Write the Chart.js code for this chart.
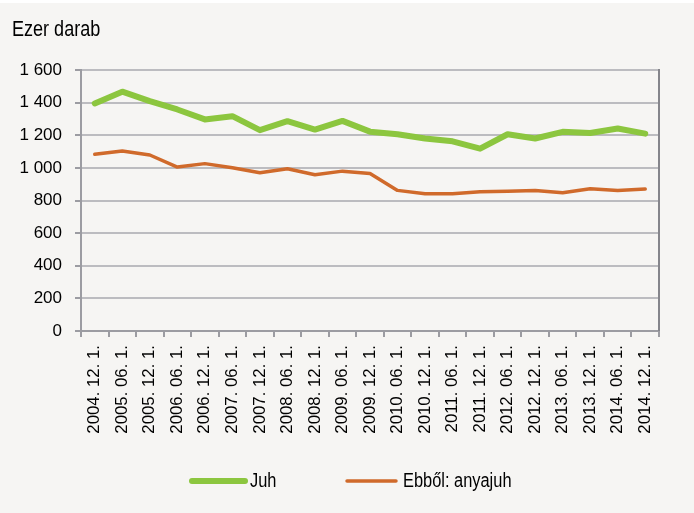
<!DOCTYPE html>
<html>
<head>
<meta charset="utf-8">
<script src="https://cdn.jsdelivr.net/npm/chart.js@4.4.1/dist/chart.umd.min.js"></script>
<style>
    html, body { margin: 0; padding: 0; background: #ffffff; }
    #wrap { width: 694px; height: 513px; position: relative; }
</style>
</head>
<body>
<div id="wrap"><canvas id="sheepChart" width="694" height="513"></canvas></div>
<script>
    const unitLabel = "Ezer darab";
    const dates = [
        "2004. 12. 1.", "2005. 06. 1.", "2005. 12. 1.", "2006. 06. 1.", "2006. 12. 1.",
        "2007. 06. 1.", "2007. 12. 1.", "2008. 06. 1.", "2008. 12. 1.", "2009. 06. 1.",
        "2009. 12. 1.", "2010. 06. 1.", "2010. 12. 1.", "2011. 06. 1.", "2011. 12. 1.",
        "2012. 06. 1.", "2012. 12. 1.", "2013. 06. 1.", "2013. 12. 1.", "2014. 06. 1.",
        "2014. 12. 1."
    ];
    const juh = [1395, 1467, 1409, 1358, 1297, 1317, 1231, 1286, 1235, 1288, 1222,
                 1206, 1180, 1163, 1118, 1206, 1180, 1221, 1214, 1241, 1210];
    const anyajuh = [1083, 1104, 1079, 1005, 1026, 1001, 970, 995, 958, 980, 965,
                     862, 841, 841, 853, 857, 862, 847, 872, 862, 870];
    const yMin = 0, yMax = 1600, yStep = 200;

    // thousands with a space, like "1 600"
    function fmt(v) {
        return String(v).replace(/\B(?=(\d{3})+(?!\d))/g, " ");
    }

    // narrow Arial look: plain Liberation Sans squeezed horizontally
    function narrowText(ctx, text, x, y, size) {
        ctx.save();
        ctx.font = size + "px 'Liberation Sans', Arial, sans-serif";
        ctx.fillStyle = "#000000";
        ctx.textBaseline = "middle";
        ctx.translate(x, y);
        ctx.scale(0.82, 1);
        ctx.fillText(text, 0, 0);
        ctx.restore();
    }

    const frame = {
        id: "frame",
        beforeDraw(chart) {
            const ctx = chart.ctx;
            ctx.save();
            ctx.fillStyle = "#f6f5f3";
            ctx.fillRect(0, 0, chart.width, chart.height);
            ctx.fillStyle = "#ffffff";
            ctx.fillRect(0, 0, chart.width, 3);
            ctx.restore();
        },
        afterDatasetsDraw(chart) {
            const ctx = chart.ctx;
            const a = chart.chartArea;
            ctx.save();
            ctx.strokeStyle = "#85858b";
            ctx.lineWidth = 2;
            ctx.beginPath();
            ctx.moveTo(a.right, a.top - 1);
            ctx.lineTo(a.right, a.bottom);
            ctx.stroke();
            ctx.restore();
        },
        afterDraw(chart) {
            const ctx = chart.ctx;
            narrowText(ctx, unitLabel, 12, 30, 22);

            // legend
            const items = [
                { x: 190, w: 57, gap: 3 },
                { x: 345, w: 53, gap: 5 }
            ];
            chart.data.datasets.forEach((ds, i) => {
                const it = items[i];
                ctx.save();
                ctx.strokeStyle = ds.borderColor;
                ctx.lineWidth = ds.borderWidth;
                ctx.lineCap = "round";
                ctx.beginPath();
                ctx.moveTo(it.x + 2, 481);
                ctx.lineTo(it.x + it.w - 2, 481);
                ctx.stroke();
                ctx.restore();
                narrowText(ctx, ds.label, it.x + it.w + it.gap, 481, 20);
            });
        }
    };

    new Chart(document.getElementById("sheepChart"), {
        type: "line",
        data: {
            labels: dates,
            datasets: [
                {
                    label: "Juh",
                    data: juh,
                    borderColor: "#8cc63f",
                    borderWidth: 6,
                    pointRadius: 0,
                    tension: 0,
                    borderJoinStyle: "round",
                    borderCapStyle: "round"
                },
                {
                    label: "Ebből: anyajuh",
                    data: anyajuh,
                    borderColor: "#d06a2b",
                    borderWidth: 3.5,
                    pointRadius: 0,
                    tension: 0,
                    borderJoinStyle: "round",
                    borderCapStyle: "round"
                }
            ]
        },
        options: {
            responsive: false,
            animation: false,
            layout: { padding: { top: 70, right: 35, bottom: 77, left: 0 } },
            plugins: {
                legend: { display: false },
                tooltip: { enabled: false }
            },
            scales: {
                x: {
                    offset: true,
                    afterFit(scale) { scale.height = 105; },
                    grid: {
                        offset: true,
                        drawOnChartArea: false,
                        drawTicks: true,
                        tickLength: 6,
                        tickColor: "#9c9ca2",
                        lineWidth: 2
                    },
                    border: { display: true, color: "#9c9ca2", width: 2 },
                    ticks: {
                        autoSkip: false,
                        minRotation: 90,
                        maxRotation: 90,
                        padding: 8,
                        color: "#000000",
                        font: { family: "'Liberation Sans', Arial, sans-serif", size: 16.8 }
                    }
                },
                y: {
                    min: yMin,
                    max: yMax,
                    afterFit(scale) { scale.width = 81; },
                    grid: {
                        color: "#bcbcc0",
                        lineWidth: 2,
                        drawTicks: true,
                        tickLength: 6,
                        tickColor: "#9c9ca2"
                    },
                    border: { display: true, color: "#9c9ca2", width: 2 },
                    ticks: {
                        stepSize: yStep,
                        padding: 13,
                        color: "#000000",
                        font: { family: "'Liberation Sans', Arial, sans-serif", size: 17 },
                        callback: (v) => fmt(v)
                    }
                }
            }
        },
        plugins: [frame]
    });
</script>
</body>
</html>
